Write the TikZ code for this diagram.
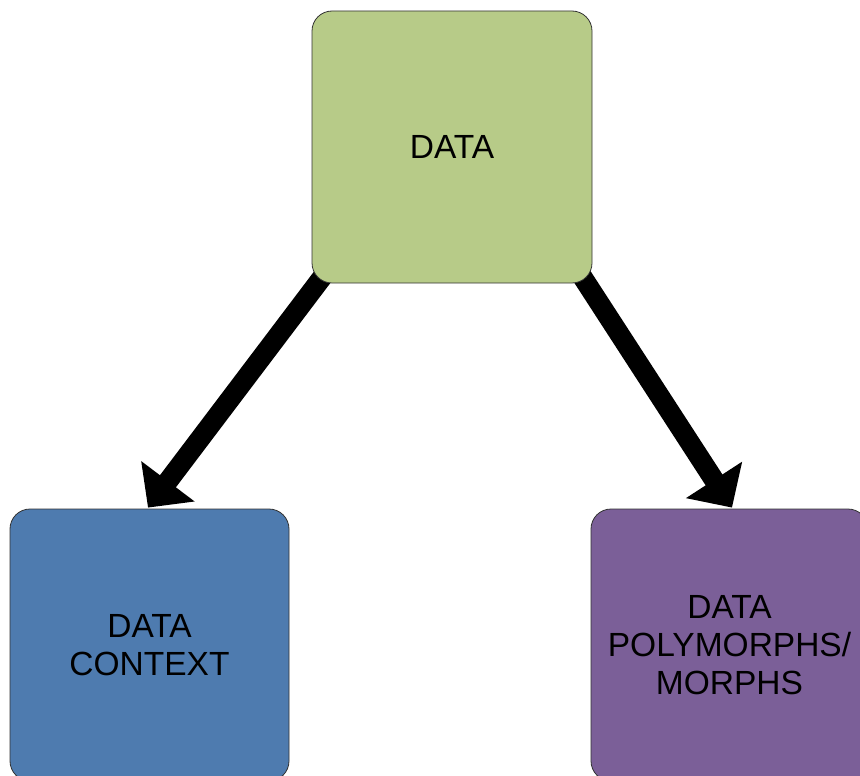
\documentclass[tikz,border=0pt]{standalone}
\usepackage{fontspec}
\setmainfont{Liberation Sans}
\usetikzlibrary{arrows.meta}
\definecolor{boxgreen}{HTML}{B7CB88}
\definecolor{boxblue}{HTML}{4E7BAF}
\definecolor{boxpurple}{HTML}{7B5F98}
\tikzset{
  box/.style={draw=black!80, line width=0.8pt, rounded corners=20pt,
    minimum width=279pt, minimum height=272pt, align=center,
    font=\fontsize{33.5}{38}\selectfont, inner sep=0pt},
  bigarrow/.style={line width=20pt, -{Triangle[length=33pt,width=65pt]}}
}
\begin{document}
\begin{tikzpicture}[x=1pt,y=-1pt]
\useasboundingbox (0,0) rectangle (860,776);
\clip (0,0) rectangle (860,776);
\path (452,147) node[box, draw=none, minimum width=280pt] (data) {};
\path (149.5,645) node[box, draw=none] (ctx) {};
\path (729.5,645) node[box, draw=none, minimum width=277pt] (pm) {};
\coordinate (s1) at ([shift={(12pt,8pt)}]data.south west);
\coordinate (s2) at ([shift={(-11pt,8pt)}]data.south east);
\coordinate (e1) at ([shift={(-1.5pt,1pt)}]ctx.north);
\coordinate (e2) at ([shift={(2.5pt,1pt)}]pm.north);
\draw[bigarrow] (s1) -- (e1);
\draw[bigarrow] (s2) -- (e2);
\node[box, fill=boxgreen, minimum width=280pt] at (data) {DATA};
\node[box, fill=boxblue] at (ctx) {DATA\\CONTEXT};
\node[box, fill=boxpurple, minimum width=277pt] at (pm) {DATA\\POLYMORPHS/\\MORPHS};
\end{tikzpicture}
\end{document}
